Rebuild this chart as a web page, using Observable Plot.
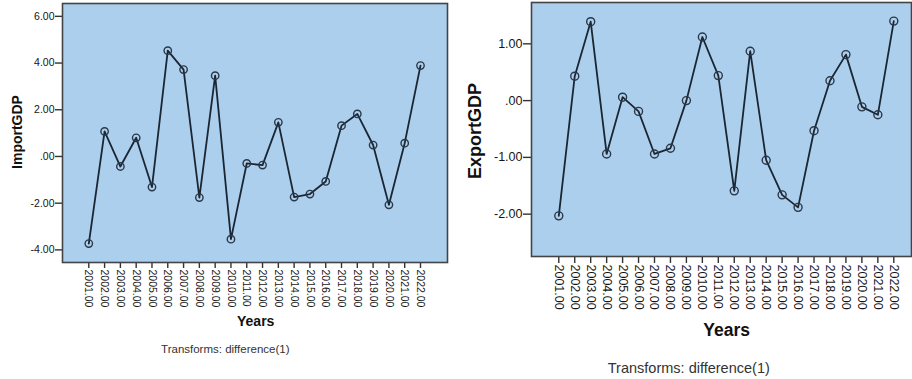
<!DOCTYPE html>
<html><head><meta charset="utf-8">
<script src="https://cdn.jsdelivr.net/npm/d3@7"></script>
<script src="https://cdn.jsdelivr.net/npm/@observablehq/plot@0.6"></script>
<style>
body{margin:0;background:#fff;font-family:"Liberation Sans",Arial,sans-serif;}
#page{position:relative;width:912px;height:379px;overflow:hidden;background:#fff;}
.panel{position:absolute;top:0;}
.lbl{position:absolute;white-space:nowrap;color:#111;line-height:1;}
</style></head><body><div id="page"></div>
<script>
const years = [2001,2002,2003,2004,2005,2006,2007,2008,2009,2010,2011,2012,2013,2014,2015,2016,2017,2018,2019,2020,2021,2022];
const importGDP = [-3.73,1.07,-0.43,0.80,-1.31,4.53,3.72,-1.76,3.46,-3.54,-0.30,-0.37,1.46,-1.74,-1.61,-1.07,1.32,1.82,0.49,-2.07,0.57,3.89];
const exportGDP = [-2.03,0.43,1.39,-0.94,0.06,-0.19,-0.94,-0.84,0.00,1.12,0.44,-1.59,0.87,-1.05,-1.66,-1.88,-0.53,0.35,0.81,-0.11,-0.25,1.40];
const importTicks = [-4,-2,0,2,4,6];
const exportTicks = [-2,-1,0,1];
const yLabels = ["ImportGDP","ExportGDP"];
const xLabel = "Years";
const caption = "Transforms: difference(1)";

const bg = "#accfee";
const lineColor = "#1b2633";
const fmt = d => d === 0 ? ".00" : d.toFixed(2);
const yearFmt = d => d.toFixed(2);

const page = document.getElementById("page");

function makePanel(cfg) {
  const data = years.map((y, i) => ({year: y, v: cfg.values[i]}));
  const chart = Plot.plot({
    width: cfg.width, height: 379,
    marginLeft: cfg.ml, marginRight: cfg.mr, marginTop: cfg.mt, marginBottom: cfg.mb,
    style: {fontFamily: "'Liberation Sans', Arial, sans-serif", fontSize: cfg.fs + "px", color: "#151515", background: "transparent", overflow: "visible"},
    x: {domain: cfg.xd, axis: null},
    y: {domain: cfg.yd, axis: null},
    marks: [
      Plot.frame({fill: bg}),
      Plot.axisY(cfg.ticks, {tickFormat: fmt, tickSize: cfg.ts, tickPadding: 1, label: null, stroke: "#333", strokeWidth: 1.4}),
      Plot.axisX(years, {tickFormat: yearFmt, tickRotate: 90, tickSize: cfg.tsx, tickPadding: 1, label: null, stroke: "#333", strokeWidth: 1.4}),
      Plot.line(data, {x: "year", y: "v", stroke: lineColor, strokeWidth: 1.8}),
      Plot.dot(data, {x: "year", y: "v", r: cfg.r, stroke: "#2a3746", strokeWidth: 1.4}),
      Plot.frame({stroke: "#444", strokeWidth: 1.6})
    ]
  });
  const wrap = document.createElement("div");
  wrap.className = "panel";
  wrap.style.left = cfg.left + "px";
  wrap.appendChild(chart);
  page.appendChild(wrap);
}

makePanel({left: 0, width: 455, ml: 62, mr: 8, mt: 3, mb: 117,
  xd: [1999.335, 2023.71], yd: [-4.54, 6.55], values: importGDP, ticks: importTicks,
  fs: 10.5, ts: 7, tsx: 6, r: 3.7});
makePanel({left: 455, width: 457, ml: 76, mr: 1, mt: 2, mb: 123,
  xd: [1999.29, 2023.11], yd: [-2.746, 1.728], values: exportGDP, ticks: exportTicks,
  fs: 12.5, ts: 8, tsx: 7, r: 4});

function addLabel(text, opts) {
  const d = document.createElement("div");
  d.className = "lbl";
  d.textContent = text;
  d.style.fontSize = opts.fs + "px";
  if (opts.bold) d.style.fontWeight = "bold";
  d.style.left = opts.x + "px";
  d.style.top = opts.y + "px";
  d.style.transform = opts.rot ? "translate(-50%,-50%) rotate(-90deg)" : "translateX(-50%)";
  if (opts.color) d.style.color = opts.color;
  page.appendChild(d);
}
addLabel(yLabels[0], {fs: 14, bold: true, x: 17, y: 132, rot: true});
addLabel(yLabels[1], {fs: 18, bold: true, x: 475, y: 130.5, rot: true});
addLabel(xLabel, {fs: 14, bold: true, x: 255.7, y: 313.9});
addLabel(xLabel, {fs: 17.5, bold: true, x: 726.7, y: 321.9});
addLabel(caption, {fs: 11.5, x: 225.3, y: 344.3, color: "#333"});
addLabel(caption, {fs: 14.5, x: 688.8, y: 360.7, color: "#333"});
</script>
</body></html>
